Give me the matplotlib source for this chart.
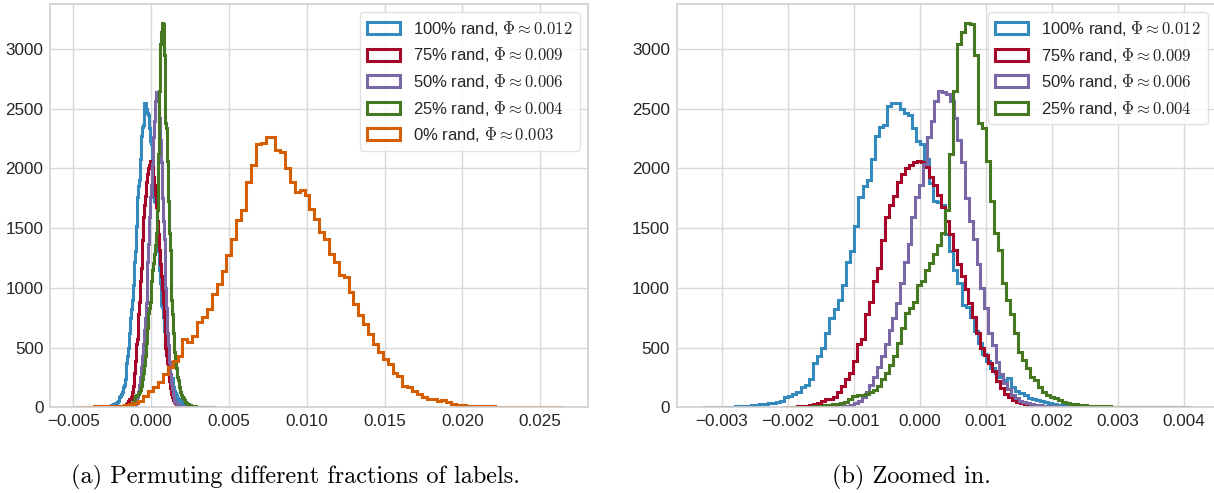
import numpy as np
import matplotlib
matplotlib.use("Agg")
import matplotlib.pyplot as plt

# histogram counts (100 bins per series)
labels = ["100% rand", "75% rand", "50% rand", "25% rand", "0% rand"]
phis = ["0.012", "0.009", "0.006", "0.004", "0.003"]
colors = ["#348ABD", "#A60628", "#7A68A6", "#467821", "#D55E00"]

# range (min, max) of each series
blue_range = (-0.00331, 0.00295)
red_range = (-0.00204, 0.00400)
purple_range = (-0.00175, 0.00405)
green_range = (-0.00200, 0.00412)
orange_range = (-0.00490, 0.02650)

blue_counts = [1, 2, 2, 3, 3, 5, 6, 6, 9, 11,
               12, 15, 18, 22, 25, 28, 33, 40, 46, 55,
               88, 96, 108, 125, 170, 190, 240, 370, 430, 500,
               620, 750, 820, 900, 1020, 1220, 1310, 1520, 1760, 1850,
               1900, 2080, 2270, 2350, 2360, 2525, 2550, 2548, 2500, 2465,
               2450, 2340, 2230, 2200, 2080, 1880, 1730, 1720, 1690, 1450,
               1310, 1150, 1040, 860, 840, 760, 640, 540, 450, 390,
               330, 290, 250, 225, 245, 170, 140, 120, 100, 80,
               68, 58, 50, 42, 34, 27, 21, 17, 13, 10,
               8, 6, 5, 3, 3, 2, 1, 1, 1, 1]

red_counts = [3, 5, 6, 8, 10, 13, 17, 24, 40, 55,
              66, 72, 90, 125, 180, 240, 290, 390, 530, 570,
              780, 885, 1060, 1170, 1400, 1590, 1690, 1770, 1890, 1950,
              2000, 2030, 2050, 2065, 2055, 2010, 1930, 1860, 1780, 1680,
              1560, 1450, 1320, 1200, 1100, 990, 870, 760, 620, 500,
              440, 370, 300, 220, 160, 110, 85, 58, 42, 32,
              24, 18, 13, 10, 8, 6, 5, 4, 3, 3,
              2, 2, 2, 1, 1, 1, 1, 0, 1, 0,
              1, 0, 0, 0, 0, 0, 0, 0, 0, 0,
              0, 0, 0, 0, 0, 0, 0, 0, 0, 1]

purple_counts = [1, 1, 2, 2, 3, 4, 5, 6, 8, 10,
                 12, 15, 20, 35, 55, 90, 130, 185, 255, 340,
                 430, 530, 650, 750, 870, 1040, 1220, 1370, 1590, 1760,
                 1860, 2040, 2260, 2400, 2560, 2650, 2635, 2620, 2560, 2420,
                 2240, 2050, 1750, 1560, 1410, 1200, 1000, 830, 620, 520,
                 380, 280, 200, 150, 100, 80, 55, 45, 35, 28,
                 22, 18, 14, 11, 9, 7, 6, 5, 4, 3,
                 3, 2, 2, 2, 1, 1, 1, 1, 0, 1,
                 0, 0, 1, 0, 0, 0, 1, 0, 0, 0,
                 0, 1, 0, 0, 0, 0, 0, 0, 0, 1]

green_counts = [1, 1, 2, 3, 4, 6, 8, 10, 13, 17,
                22, 25, 30, 36, 45, 70, 95, 105, 103, 115,
                128, 145, 180, 235, 290, 350, 430, 540, 665, 790,
                835, 880, 1020, 1060, 1150, 1210, 1280, 1360, 1460, 1650,
                2120, 2650, 3040, 3140, 3215, 3205, 2950, 2380, 2340, 2060,
                1730, 1460, 1315, 1040, 900, 785, 620, 465, 400, 326,
                256, 225, 170, 130, 105, 90, 75, 60, 47, 38,
                30, 26, 22, 18, 15, 13, 11, 9, 8, 7,
                6, 5, 5, 4, 4, 3, 3, 3, 2, 2,
                2, 2, 1, 1, 1, 1, 1, 1, 1, 1]

orange_counts = [2, 1, 2, 5, 7, 9, 11, 12, 14, 15,
                 18, 28, 35, 56, 98, 140, 167, 209, 279, 335,
                 391, 432, 572, 544, 600, 711, 753, 823, 949, 1032,
                 1144, 1272, 1412, 1566, 1650, 1887, 2027, 2203, 2209, 2265,
                 2265, 2153, 2139, 1999, 1887, 1803, 1817, 1775, 1664, 1580,
                 1468, 1412, 1286, 1216, 1104, 1090, 965, 867, 769, 699,
                 615, 531, 461, 405, 363, 285, 266, 182, 168, 134,
                 112, 89, 70, 70, 56, 62, 42, 28, 22, 16,
                 14, 12, 10, 9, 8, 7, 6, 5, 5, 4,
                 4, 3, 3, 2, 2, 2, 1, 1, 1, 1]

ranges = [blue_range, red_range, purple_range, green_range, orange_range]
counts = [blue_counts, red_counts, purple_counts, green_counts, orange_counts]

plt.style.use("seaborn-v0_8-whitegrid")
plt.rcParams["font.family"] = ["Liberation Sans", "DejaVu Sans"]
plt.rcParams["mathtext.fontset"] = "cm"
plt.rcParams["font.size"] = 12
plt.rcParams["axes.unicode_minus"] = True

W, H = 1214, 493
fig = plt.figure(figsize=(W / 100, H / 100), dpi=100)
ax1 = fig.add_axes([50.5 / W, 85.7 / H, 537.5 / W, 403.3 / H])
ax2 = fig.add_axes([677 / W, 85.7 / H, 539 / W, 403.3 / H])


def draw(ax, n):
    for i in range(n):
        lo, hi = ranges[i]
        edges = np.linspace(lo, hi, len(counts[i]) + 1)
        mids = (edges[:-1] + edges[1:]) / 2
        ax.hist(mids, bins=edges, weights=counts[i], histtype="step",
                color=colors[i], linewidth=2.2,
                label=labels[i] + r", $\Phi \approx " + phis[i] + "$")
    ax.tick_params(labelsize=12.3, colors="#262626", pad=5)
    ax.grid(True, color="#d9d9d9", linewidth=1)
    for s in ax.spines.values():
        s.set_color("#d0d0d0")
        s.set_linewidth(1.2)
    leg = ax.legend(loc="upper right", frameon=True, fontsize=12,
                    labelspacing=0.45, borderpad=0.4, handlelength=2.0)
    leg.get_frame().set_edgecolor("#dddddd")
    leg.get_frame().set_facecolor("white")
    leg.get_frame().set_alpha(0.85)


draw(ax1, 5)
draw(ax2, 4)

fig.text(295 / W, 16 / H, "(a) Permuting different fractions of labels.",
         family="cmr10", fontsize=17.5, ha="center", va="center", color="black")
fig.text(911 / W, 16 / H, "(b) Zoomed in.",
         family="cmr10", fontsize=17.5, ha="center", va="center", color="black")

fig.savefig("out.png", dpi=100)
